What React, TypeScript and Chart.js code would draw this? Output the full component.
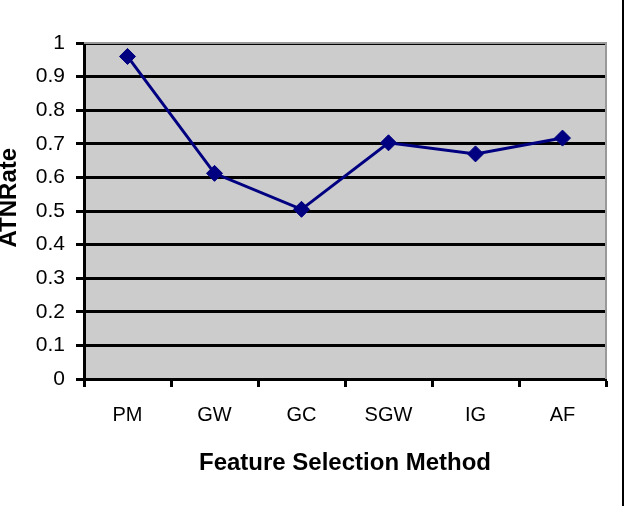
import React, { useEffect, useRef } from "react";
import { Chart, registerables } from "chart.js";

Chart.register(...registerables);

const categories = ["PM", "GW", "GC", "SGW", "IG", "AF"];
const atnRate = [0.96, 0.612, 0.505, 0.703, 0.67, 0.717];
const yTickLabels = ["0", "0.1", "0.2", "0.3", "0.4", "0.5", "0.6", "0.7", "0.8", "0.9", "1"];
const yTitle = "ATNRate";
const xTitle = "Feature Selection Method";

const FONT = "'Liberation Sans', Arial, Helvetica, sans-serif";

const framePlugin = {
  id: "frame",
  beforeDraw(chart: any) {
    const { ctx, chartArea: a } = chart;
    ctx.save();
    ctx.fillStyle = "#cccccc";
    ctx.fillRect(a.left, a.top, a.right - a.left, a.bottom - a.top);
    ctx.restore();
  },
  afterDraw(chart: any) {
    const { ctx, chartArea: a } = chart;
    ctx.save();
    ctx.strokeStyle = "#999999";
    ctx.lineWidth = 2;
    ctx.beginPath();
    ctx.moveTo(a.left, a.top);
    ctx.lineTo(a.right, a.top);
    ctx.lineTo(a.right, a.bottom);
    ctx.stroke();
    ctx.fillStyle = "#000000";
    ctx.fillRect(chart.width - 2, 0, 2, chart.height);
    ctx.restore();
  },
};

export default function App() {
  const ref = useRef<HTMLCanvasElement | null>(null);
  useEffect(() => {
    document.body.style.margin = "0";
    const chart = new Chart(ref.current!, {
      type: "line",
      data: {
        labels: categories,
        datasets: [
          {
            data: atnRate,
            borderColor: "#000080",
            backgroundColor: "#000080",
            borderWidth: 3,
            pointStyle: "rectRot",
            pointRadius: 8,
            pointBorderWidth: 1,
            pointBackgroundColor: "#000080",
            pointBorderColor: "#000080",
            tension: 0,
          },
        ],
      },
      options: {
        responsive: false,
        animation: false,
        layout: { padding: { left: 0, right: 18, top: 43, bottom: 0 } },
        plugins: { legend: { display: false }, tooltip: { enabled: false } },
        scales: {
          x: {
            type: "category",
            offset: true,
            grid: {
              offset: true,
              drawOnChartArea: false,
              tickLength: 8,
              tickWidth: 3,
              tickColor: "#000",
            },
            border: { display: true, color: "#000", width: 3 },
            ticks: {
              color: "#000",
              font: { family: FONT, size: 20 },
              padding: 16,
              maxRotation: 0,
            },
            title: {
              display: true,
              text: xTitle,
              color: "#000",
              font: { family: FONT, size: 24, weight: "bold", lineHeight: 1.2 },
              padding: { top: 28, bottom: 28 },
            },
            afterFit(scale: any) {
              scale.height = 127;
            },
          },
          y: {
            min: 0,
            max: 1,
            ticks: {
              stepSize: 0.1,
              color: "#000",
              font: { family: FONT, size: 21 },
              padding: 11,
              callback: (_v: any, i: number) => yTickLabels[i],
            },
            grid: {
              color: "#000",
              lineWidth: 3,
              tickLength: 8,
              tickWidth: 3,
              tickColor: "#000",
            },
            border: { display: true, color: "#000", width: 3 },
            title: {
              display: true,
              text: "    " + yTitle,
              color: "#000",
              font: { family: FONT, size: 24, weight: "bold", lineHeight: 0.75 },
              padding: { top: 0, bottom: 0 },
            },
            afterFit(scale: any) {
              scale.width = 84;
            },
          },
        },
      },
      plugins: [framePlugin],
    });
    return () => chart.destroy();
  }, []);
  return (
    <div style={{ position: "absolute", left: 0, top: 0, width: 624, height: 506, background: "#fff" }}>
      <canvas ref={ref} width={624} height={506} />
    </div>
  );
}
